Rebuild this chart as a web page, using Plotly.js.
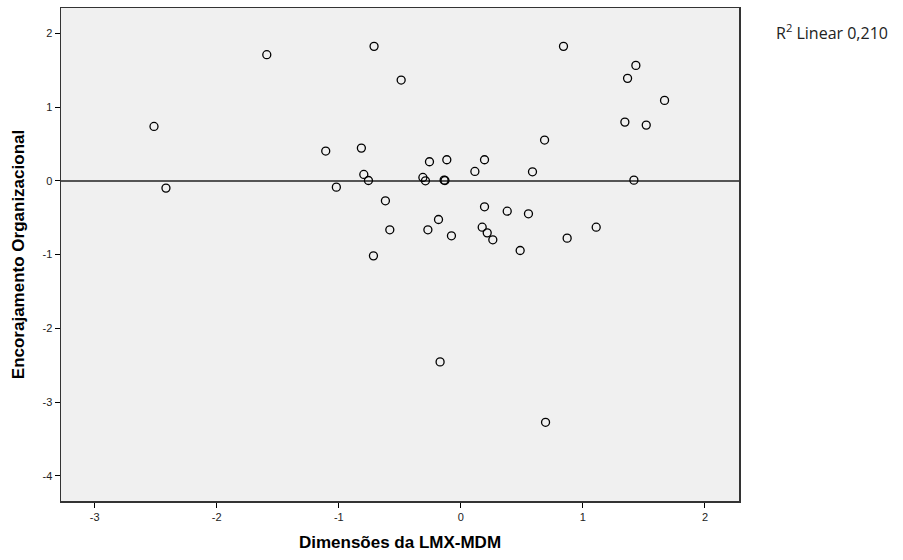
<!DOCTYPE html>
<html>
<head>
<meta charset="utf-8">
<script src="https://cdn.plot.ly/plotly-3.0.1.min.js"></script>
<style>html,body{margin:0;padding:0;background:#fff;}#chart{width:903px;height:560px;}</style>
</head>
<body>
<div id="chart"></div>
<script>
const lmxMdm = [
  -2.514, -2.416, -1.590,
  -0.711, 0.841, -0.489, -1.107, -0.815, 0.686, -0.257, -0.115, 0.194, 0.115, 0.587,
  -0.795, -0.757, -0.311, -0.290, -0.137, -0.130, -1.020, -0.618, 0.194, 0.380, 0.554,
  -0.183, -0.582, -0.270, 0.175, 0.216, 0.262, -0.077, 1.109, 0.871, 0.486, -0.716,
  1.434, 1.366, 1.669, 1.344, 1.519, 1.418,
  -0.170, 0.694
];
const encorajamento = [
  0.737, -0.099, 1.710,
  1.823, 1.823, 1.366, 0.403, 0.443, 0.552, 0.258, 0.285, 0.285, 0.127, 0.122,
  0.086, 0.004, 0.045, 0.000, 0.009, 0.004, -0.086, -0.271, -0.353, -0.412, -0.448,
  -0.525, -0.665, -0.665, -0.629, -0.706, -0.800, -0.746, -0.629, -0.778, -0.945, -1.018,
  1.565, 1.389, 1.090, 0.796, 0.755, 0.009,
  -2.456, -3.275
];
const xTicks = [-3, -2, -1, 0, 1, 2];
const yTicks = [2, 1, 0, -1, -2, -3, -4];
const xTitle = "Dimensões da LMX-MDM";
const yTitle = "Encorajamento Organizacional";
const r2Label = "R<sup>2</sup> Linear 0,210";

const trace = {
  x: lmxMdm, y: encorajamento, type: "scatter", mode: "markers",
  marker: {symbol: "circle-open", size: 8, color: "#000", line: {width: 1.3, color: "#000"}},
  hoverinfo: "x+y", showlegend: false
};
const axisCommon = {
  showgrid: false, showline: true, linecolor: "#333", linewidth: 1.5, mirror: true,
  ticks: "outside", ticklen: 5, tickwidth: 1, tickcolor: "#000",
  tickfont: {family: "Liberation Sans, Arial, sans-serif", size: 11, color: "#222"},
  tickmode: "array"
};
const layout = {
  width: 903, height: 560,
  margin: {l: 61, r: 164, t: 8, b: 59},
  paper_bgcolor: "#fff", plot_bgcolor: "#f0f0f0",
  xaxis: Object.assign({}, axisCommon, {
    range: [-3.276, 2.279], tickvals: xTicks, ticktext: xTicks.map(String),
    zeroline: false,
    title: {text: xTitle, standoff: 14, font: {family: "Liberation Sans, Arial, sans-serif", size: 17, color: "#000", weight: "bold"}}
  }),
  yaxis: Object.assign({}, axisCommon, {
    range: [-4.342, 2.343], tickvals: yTicks, ticktext: yTicks.map(String),
    zeroline: true, zerolinecolor: "#555", zerolinewidth: 1.5,
    title: {text: yTitle, standoff: 13, font: {family: "Liberation Sans, Arial, sans-serif", size: 17, color: "#000", weight: "bold"}}
  }),
  annotations: [{
    xref: "paper", yref: "paper", x: 1.052, y: 0.951, xanchor: "left", yanchor: "middle",
    text: r2Label, showarrow: false,
    font: {family: "Open Sans, Noto Sans, sans-serif", size: 16, color: "#222"}
  }]
};
Plotly.newPlot("chart", [trace], layout, {displayModeBar: false, staticPlot: true});
</script>
</body>
</html>
